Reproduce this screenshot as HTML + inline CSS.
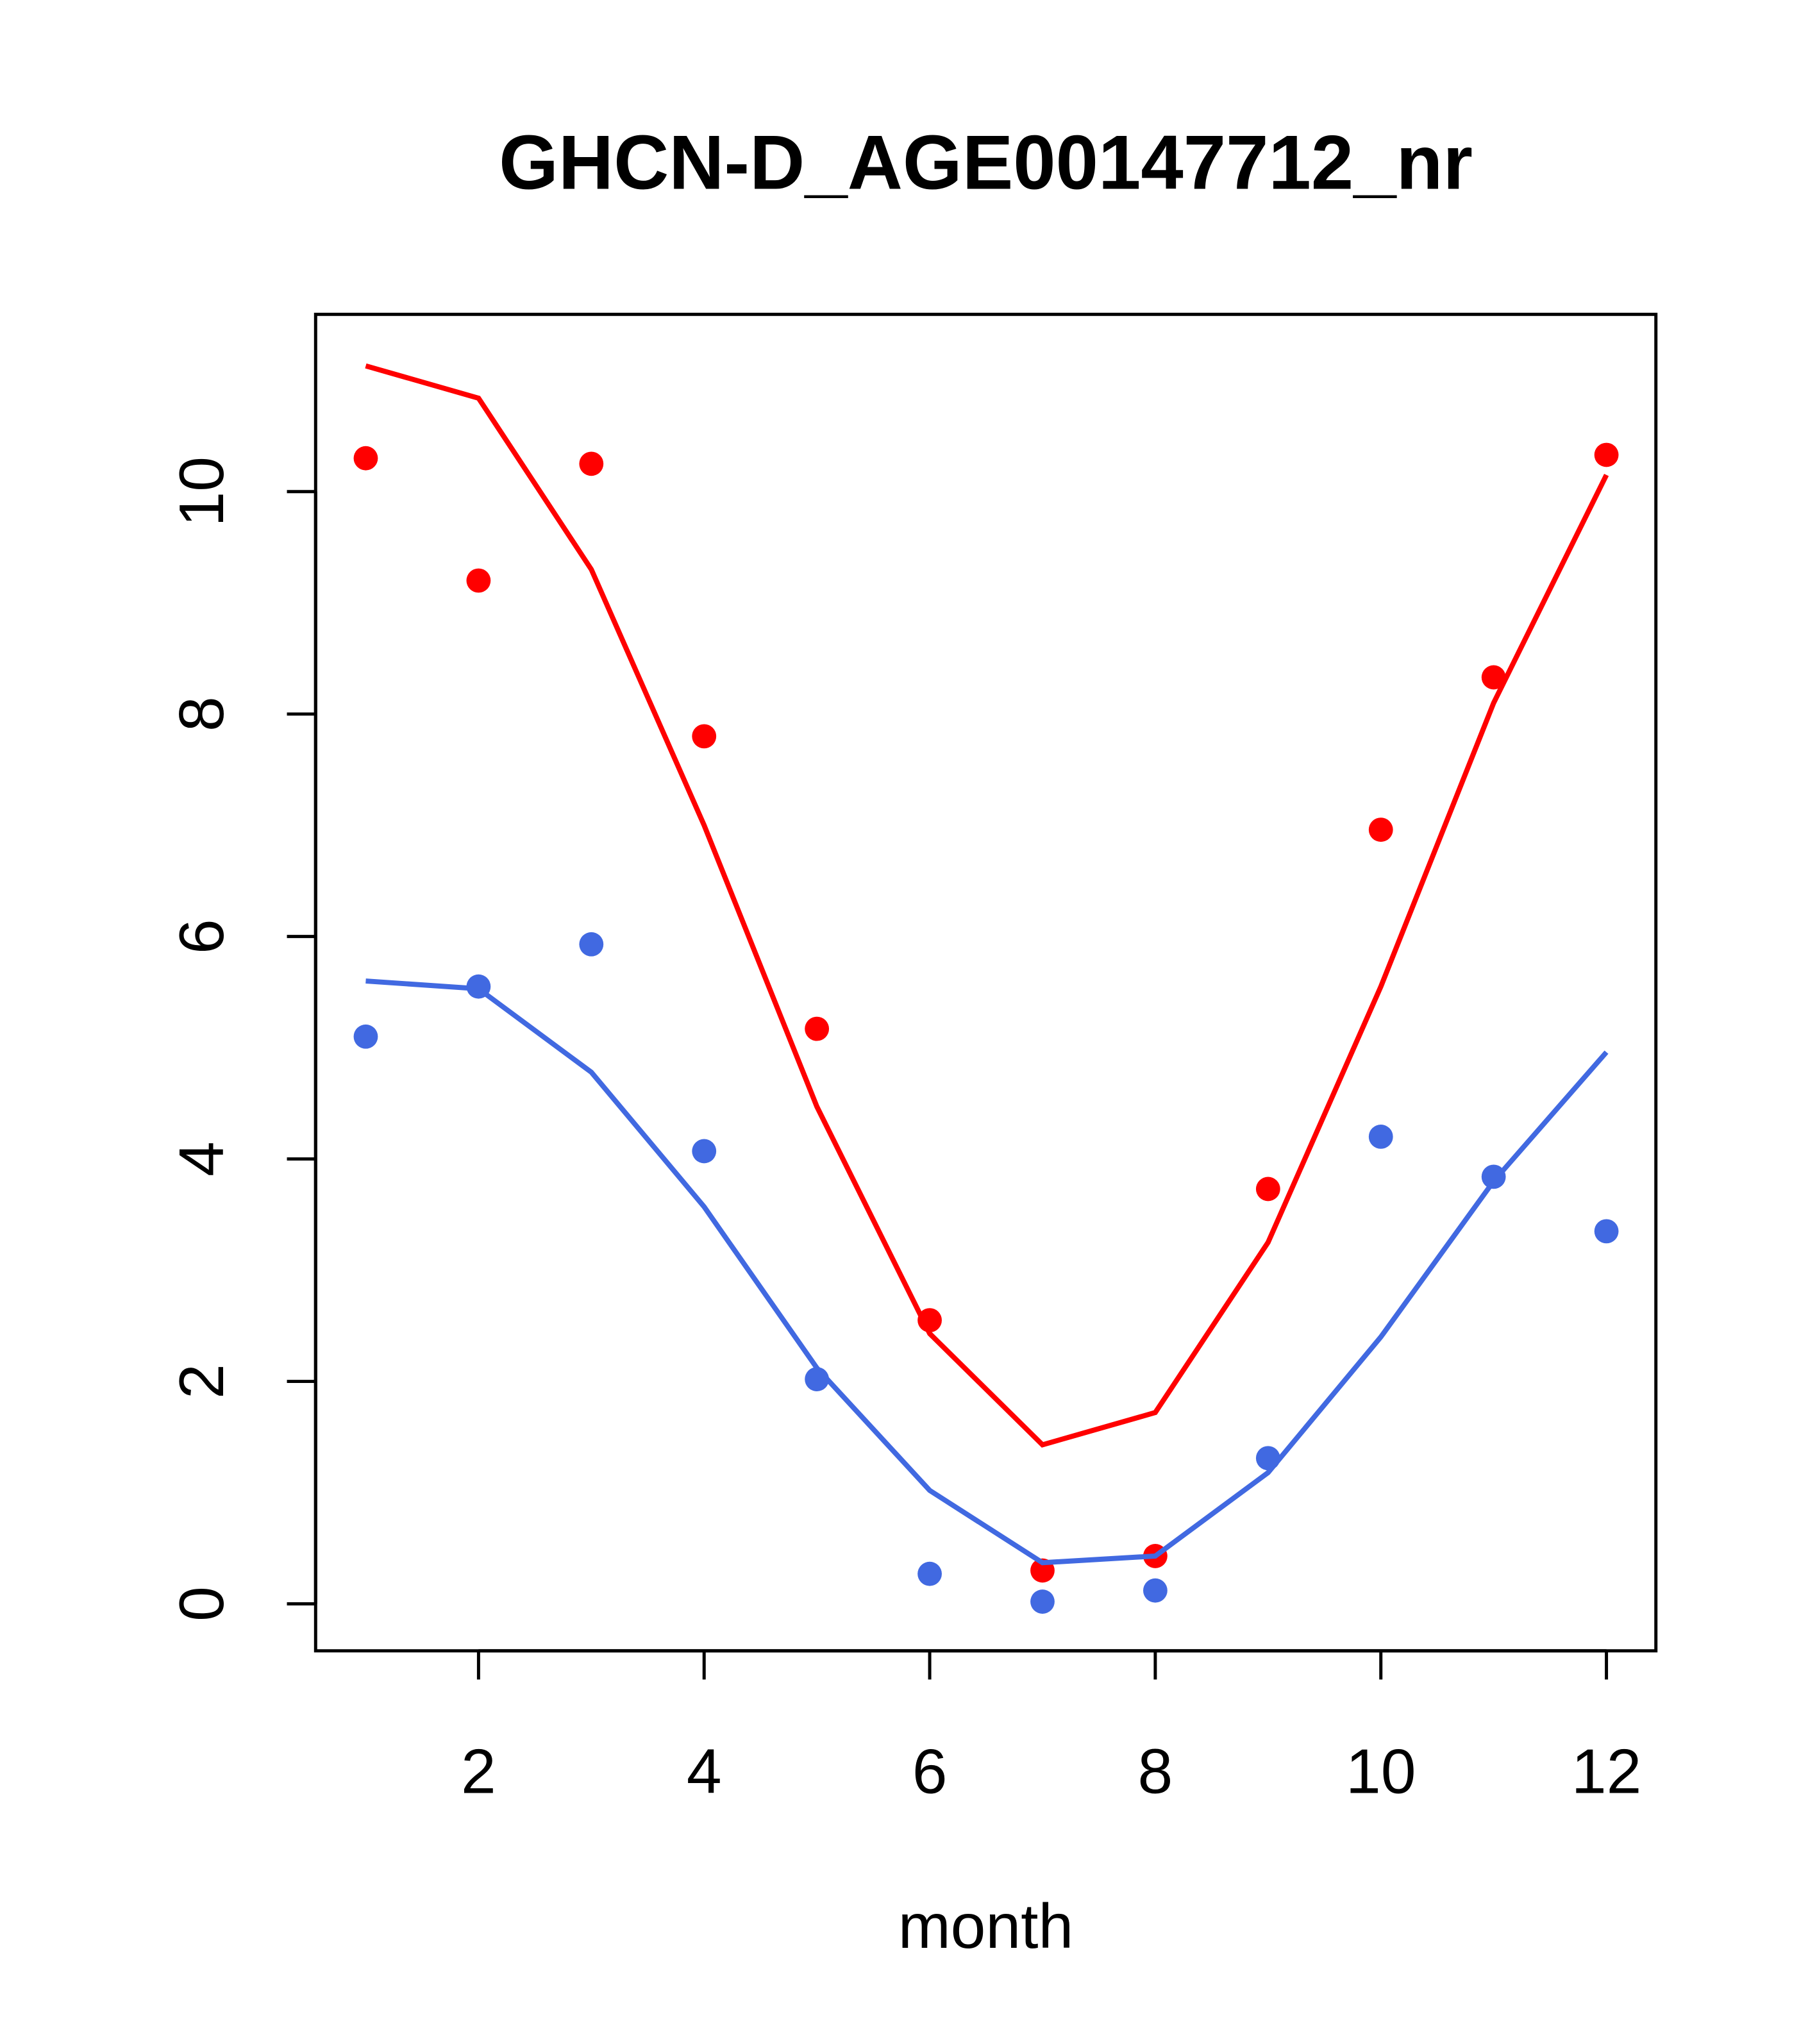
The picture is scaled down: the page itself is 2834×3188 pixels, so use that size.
<!DOCTYPE html>
<html><head><meta charset="utf-8"><style>
html,body{margin:0;padding:0;background:#fff;}
svg{display:block;}
text{font-family:"Liberation Sans",Arial,sans-serif;}
</style></head><body>
<svg id="chart" width="2834" height="3188" viewBox="0 0 2834 3188" xmlns="http://www.w3.org/2000/svg">
<g transform="scale(0.9945)">
<text x="1546" y="296" font-size="120" font-weight="bold" text-anchor="middle">GHCN-D_AGE00147712_nr</text>
<rect x="495" y="493" width="2102" height="2096" fill="none" stroke="#000" stroke-width="5"/>
<g id="xaxis"></g>
<g id="yaxis"></g>
<text x="1546" y="3055" font-size="99" text-anchor="middle">month</text>
<g id="series"></g>
</g>
</svg>
<script>
const months=[1,2,3,4,5,6,7,8,9,10,11,12];
const redPoints=[10.3,9.2,10.25,7.8,5.17,2.55,0.3,0.43,3.73,6.96,8.33,10.33];
const redLine=[11.13,10.84,9.3,7.0,4.47,2.43,1.43,1.72,3.25,5.55,8.1,10.15];
const bluePoints=[5.1,5.55,5.93,4.07,2.02,0.27,0.02,0.12,1.31,4.2,3.84,3.35];
const blueLine=[5.6,5.53,4.78,3.57,2.12,1.02,0.37,0.43,1.18,2.4,3.8,4.96];
const xTicks=[2,4,6,8,10,12];
const yTicks=[0,2,4,6,8,10];
const S=2.045;
function X(m){return S*(280.5+86.5*(m-1));}
function Y(v){return S*(1230-85.3*v);}
const NS="http://www.w3.org/2000/svg";
function mk(tag,attrs,parent){const e=document.createElementNS(NS,tag);for(const k in attrs)e.setAttribute(k,attrs[k]);parent.appendChild(e);return e;}
const xa=document.getElementById('xaxis'),ya=document.getElementById('yaxis'),se=document.getElementById('series');
const axY=2589;
const xl=mk('line',{x1:X(xTicks[0]),x2:X(xTicks[xTicks.length-1]),y1:axY,y2:axY,stroke:'#000','stroke-width':5},xa);


xTicks.forEach(t=>{
 const l=mk('line',{x1:X(t),x2:X(t),y1:axY,y2:axY+45,stroke:'#000','stroke-width':5},xa);
 
 
 const tx=mk('text',{x:X(t),y:2812,'font-size':99,'text-anchor':'middle'},xa);
 tx.textContent=t;
 
 
});
const axX=495;
const yl=mk('line',{x1:axX,x2:axX,y1:Y(yTicks[0]),y2:Y(yTicks[yTicks.length-1]),stroke:'#000','stroke-width':5},ya);


yTicks.forEach(t=>{
 const l=mk('line',{x1:axX-45,x2:axX,y1:Y(t),y2:Y(t),stroke:'#000','stroke-width':5},ya);
 
 
 const tx=mk('text',{x:0,y:0,'font-size':99,'text-anchor':'middle',transform:`translate(350,${Y(t)}) rotate(-90)`},ya);
 tx.textContent=t;
 
 
});
function series(line,pts,color,name){
 const p=mk('polyline',{points:months.map((m,i)=>X(m)+','+Y(line[i])).join(' '),fill:'none',stroke:color,'stroke-width':8},se);
 
 
 months.forEach((m,i)=>{
  const c=mk('circle',{cx:X(m),cy:Y(pts[i]),r:19,fill:color},se);
  
  
 });
}
series(redLine,redPoints,'#ff0000','red-series');
series(blueLine,bluePoints,'#4169e1','blue-series');
</script>
</body></html>
